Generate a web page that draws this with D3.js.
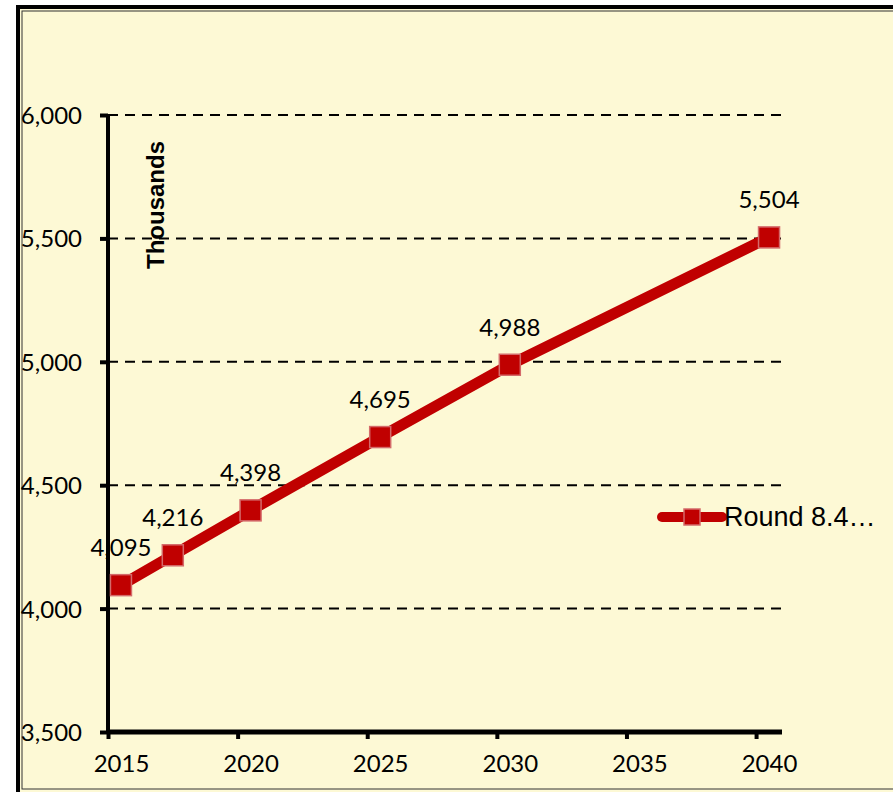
<!DOCTYPE html>
<html>
<head>
<meta charset="utf-8">
<script src="https://cdn.jsdelivr.net/npm/d3@7"></script>
<style>
body { margin: 0; background: #ffffff; }
svg { display: block; }
.num { font-family: Lato, "Open Sans", sans-serif; font-size: 24px; fill: #000; }
</style>
</head>
<body>
<div id="chart"></div>
<script>
// data
var years = [2015, 2017, 2020, 2025, 2030, 2040];
var values = [4095, 4216, 4398, 4695, 4988, 5504];
var xTicks = [2015, 2020, 2025, 2030, 2035, 2040];
var yTicks = [3500, 4000, 4500, 5000, 5500, 6000];
var seriesName = "Round 8.4\u2026";

var W = 893, H = 792;
var margin = {left: 108, right: 111, top: 115, bottom: 60};

var x = d3.scaleLinear().domain([2015, 2041]).range([margin.left, W - margin.right]);
var y = d3.scaleLinear().domain([3500, 6000]).range([H - margin.bottom, margin.top]);

var svg = d3.select("#chart").append("svg")
    .attr("width", W)
    .attr("height", H);

// chart background and frame
svg.append("rect").attr("x", 18).attr("y", 7).attr("width", 1000).attr("height", 790)
    .attr("fill", "#fdf9d5").attr("stroke", "#000").attr("stroke-width", 4);
svg.append("rect").attr("x", 22).attr("y", 11).attr("width", 1000).attr("height", 778)
    .attr("fill", "none").attr("stroke", "#333").attr("stroke-width", 1);

// dashed gridlines
svg.append("g").selectAll("line")
    .data(yTicks.slice(1))
    .enter().append("line")
    .attr("x1", x(2015)).attr("x2", x(2041))
    .attr("y1", d => y(d)).attr("y2", d => y(d))
    .attr("stroke", "#000").attr("stroke-width", 2)
    .attr("stroke-dasharray", "10,7");

// y axis
var yAxis = svg.append("g")
    .attr("transform", `translate(${x(2015)},0)`)
    .call(d3.axisLeft(y).tickValues(yTicks).tickFormat(d3.format(",")).tickSize(8).tickPadding(18));
yAxis.select(".domain").attr("stroke", "#000").attr("stroke-width", 4).attr("d", `M0,${y(6000)}V${y(3500)}`);
yAxis.selectAll(".tick line").attr("stroke-width", 4);
yAxis.selectAll(".tick text").attr("class", "num").attr("dy", "0.35em");

// x axis: tick marks at year boundaries, labels at mid-year
var xAxis = svg.append("g")
    .attr("transform", `translate(0,${y(3500)})`)
    .call(d3.axisBottom(x).tickValues(xTicks).tickFormat(d3.format("d")).tickSize(7).tickPadding(16));
xAxis.select(".domain").attr("stroke", "#000").attr("stroke-width", 5).attr("d", `M${x(2015)},0H${x(2041)}`);
xAxis.selectAll(".tick line").attr("stroke-width", 4);
xAxis.selectAll(".tick text").attr("class", "num").attr("x", x(2015.5) - x(2015));

// axis title
svg.append("text")
    .attr("transform", `translate(164,205) rotate(-90)`)
    .attr("text-anchor", "middle")
    .style("font-family", "'Liberation Sans', Arial, sans-serif")
    .style("font-size", "24px")
    .style("font-weight", "bold")
    .text("Thousands");

var pts = years.map((d, i) => ({year: d, value: values[i]}));

var line = d3.line()
    .x(d => x(d.year + 0.5))
    .y(d => y(d.value));

svg.append("path")
    .datum(pts)
    .attr("d", line)
    .attr("fill", "none")
    .attr("stroke", "#c00000")
    .attr("stroke-width", 11)
    .attr("stroke-linejoin", "round");

svg.append("g").selectAll("rect")
    .data(pts)
    .enter().append("rect")
    .attr("x", d => x(d.year + 0.5) - 10.5)
    .attr("y", d => y(d.value) - 10.5)
    .attr("width", 21).attr("height", 21)
    .attr("fill", "#c00000")
    .attr("stroke", "#d46a6a")
    .attr("stroke-width", 1.5);

// data labels
svg.append("g").selectAll("text")
    .data(pts)
    .enter().append("text")
    .attr("class", "num")
    .attr("x", d => x(d.year + 0.5))
    .attr("y", d => y(d.value) - 29)
    .attr("text-anchor", "middle")
    .text(d => d3.format(",")(d.value));

// legend
var lg = svg.append("g").attr("transform", "translate(662,517)");
lg.append("line").attr("x1", 0).attr("x2", 60)
    .attr("stroke", "#c00000").attr("stroke-width", 10).attr("stroke-linecap", "round");
lg.append("rect").attr("x", 22).attr("y", -8).attr("width", 16).attr("height", 16)
    .attr("fill", "#c00000").attr("stroke", "#d46a6a").attr("stroke-width", 1.5);
lg.append("text").attr("x", 62).attr("y", 0).attr("dy", "0.35em")
    .style("font-family", "'Liberation Sans', Arial, sans-serif")
    .style("font-size", "27px")
    .text(seriesName);
</script>
</body>
</html>
